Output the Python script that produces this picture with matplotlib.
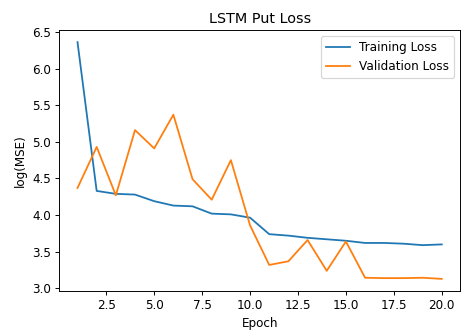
import matplotlib
matplotlib.use("Agg")
import matplotlib.pyplot as plt

epochs = list(range(1, 21))
train_loss = [6.36, 4.33, 4.29, 4.28, 4.19, 4.13, 4.12, 4.02, 4.01, 3.965,
              3.74, 3.72, 3.69, 3.67, 3.65, 3.62, 3.62, 3.61, 3.59, 3.60]
val_loss = [4.37, 4.93, 4.27, 5.16, 4.91, 5.37, 4.49, 4.21, 4.75, 3.86,
            3.32, 3.37, 3.66, 3.24, 3.64, 3.145, 3.14, 3.14, 3.145, 3.13]

DPI = 86
fig = plt.figure(figsize=(461/DPI, 332/DPI), dpi=DPI)
ax = fig.add_axes([0.1286, 0.1244, 0.9978-0.1286, 0.9087-0.1244])
ax.plot(epochs, train_loss, label="Training Loss")
ax.plot(epochs, val_loss, label="Validation Loss")
ax.set_title("LSTM Put Loss")
ax.set_xlabel("Epoch")
ax.set_ylabel("log(MSE)")
ax.legend(loc="upper right")
fig.savefig("out.png", dpi=DPI)
